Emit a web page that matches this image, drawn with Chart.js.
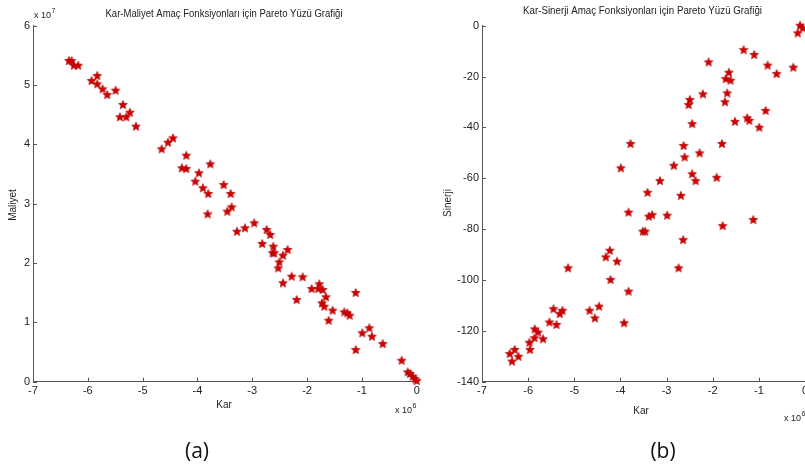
<!DOCTYPE html>
<html>
<head>
<meta charset="utf-8">
<script src="https://cdn.jsdelivr.net/npm/chart.js@4"></script>
<style>
html, body { margin: 0; padding: 0; overflow: hidden; background: #fff; }
body { width: 805px; height: 474px; position: relative; }
canvas { position: absolute; top: 0; }
#chartA { left: 0; }
#chartB { left: 400px; }
.cap { position: absolute; top: 436px; font: 21px "Open Sans", sans-serif; color: #111; transform: translateX(-50%); }
</style>
</head>
<body>
<canvas id="chartA" width="430" height="474"></canvas>
<canvas id="chartB" width="430" height="474"></canvas>
<div class="cap" style="left:197px">(a)</div>
<div class="cap" style="left:663px">(b)</div>
<script>
// (a) Kar (x 10^6) vs Maliyet (x 10^7)
const karA = [
  -6.345, -6.296, -6.254, -6.175, -5.931, -5.828, -5.828, -5.730, -5.646, -5.493,
  -5.359, -5.414, -5.299, -5.232, -5.122, -4.653, -4.538, -4.447, -4.204, -4.283,
  -4.204, -3.973, -3.766, -4.040, -3.900, -3.803, -3.522, -3.394, -3.814, -3.456,
  -3.376, -3.279, -3.133, -2.964, -2.737, -2.672, -2.818, -2.617, -2.628, -2.599,
  -2.440, -2.354, -2.507, -2.526, -2.281, -2.080, -2.440, -2.190, -1.777, -1.916,
  -1.796, -1.715, -1.655, -1.728, -1.686, -1.533, -1.606, -1.321, -1.266, -1.223,
  -1.113, -0.865, -0.993, -0.816, -0.620, -1.113, -0.274, -0.164, -0.122, -0.073,
  -0.026, 0.0
];
const maliyetA = [
  5.405, 5.405, 5.326, 5.326, 5.068, 5.153, 5.013, 4.928, 4.832, 4.905,
  4.664, 4.456, 4.456, 4.534, 4.298, 3.917, 4.028, 4.102, 3.809, 3.597,
  3.585, 3.513, 3.664, 3.371, 3.260, 3.164, 3.315, 3.164, 2.821, 2.865,
  2.939, 2.528, 2.586, 2.670, 2.557, 2.473, 2.321, 2.275, 2.164, 2.164,
  2.124, 2.220, 2.012, 1.911, 1.770, 1.760, 1.659, 1.377, 1.642, 1.562,
  1.562, 1.546, 1.423, 1.321, 1.264, 1.197, 1.028, 1.170, 1.153, 1.112,
  1.495, 0.900, 0.816, 0.758, 0.635, 0.534, 0.354, 0.158, 0.130, 0.084,
  0.040, 0.010
];

// (b) Kar (x 10^6) vs Sinerji
const karB = [
  -0.108, -0.050, -0.158, -1.330, -1.100, -0.809, -0.614, -0.254, -2.089, -1.649,
  -1.720, -1.612, -1.685, -1.735, -2.213, -2.495, -2.523, -2.445, -1.518, -1.252,
  -1.208, -0.852, -0.991, -3.781, -2.631, -1.800, -3.991, -2.610, -2.284, -2.842,
  -3.145, -2.445, -2.371, -1.915, -3.412, -2.690, -3.824, -3.384, -3.312, -2.987,
  -3.514, -3.464, -1.785, -1.121, -2.640, -4.230, -4.317, -4.072, -5.134, -2.740,
  -4.215, -3.824, -5.451, -5.256, -5.315, -5.538, -5.386, -4.670, -4.462, -4.555,
  -3.920, -5.857, -5.785, -5.863, -5.972, -5.677, -5.959, -6.399, -6.291, -6.210,
  -6.349
];
const sinerjiB = [
  0, -1.0, -3.0, -9.6, -11.5, -15.7, -19.0, -16.5, -14.4, -18.5,
  -21.0, -21.6, -26.6, -30.1, -27.0, -29.2, -31.2, -38.7, -37.8, -36.4,
  -37.4, -33.5, -40.1, -46.5, -47.3, -46.5, -56.1, -51.8, -50.2, -55.1,
  -61.1, -58.4, -61.1, -59.8, -65.7, -66.9, -73.5, -75.1, -74.5, -74.7,
  -81.0, -81.0, -78.8, -76.4, -84.3, -88.5, -91.1, -92.8, -95.4, -95.4,
  -100.0, -104.6, -111.5, -112.1, -113.4, -116.7, -117.7, -112.1, -110.5, -115.1,
  -117.0, -119.4, -120.7, -122.9, -124.7, -123.3, -127.5, -129.1, -127.5, -130.2,
  -132.1
];

const karTicks = [-7, -6, -5, -4, -3, -2, -1, 0];
const maliyetTicks = [0, 1, 2, 3, 4, 5, 6];
const sinerjiTicks = [-140, -120, -100, -80, -60, -40, -20, 0];

const AXIS = '#555';
const INK = '#222';

// filled 5-point star, like MATLAB's pentagram marker
function makeStar(r) {
    const s = Math.ceil(r * 2) + 2;
    const c = document.createElement('canvas');
    c.width = s; c.height = s;
    const g = c.getContext('2d');
    g.beginPath();
    for (let i = 0; i < 10; i++) {
        const rad = i % 2 ? r * 0.45 : r;
        const a = -Math.PI / 2 + i * Math.PI / 5;
        const x = s / 2 + rad * Math.cos(a), y = s / 2 + rad * Math.sin(a);
        if (i) g.lineTo(x, y); else g.moveTo(x, y);
    }
    g.closePath();
    g.fillStyle = '#d20000';
    g.fill();
    g.strokeStyle = '#b00000';
    g.lineWidth = 0.6;
    g.stroke();
    return c;
}
const star = makeStar(4.6);

function squashText(ctx, text, x, y, w) {
    const sx = w / ctx.measureText(text).width;
    ctx.save();
    ctx.translate(x, y);
    ctx.scale(sx, 1);
    ctx.fillText(text, 0, 0);
    ctx.restore();
}

// titles, axis labels, exponents and inward tick marks
const annotPlugin = {
    id: 'annot',
    afterDraw(chart, args, o) {
        const ctx = chart.ctx;
        ctx.save();
        ctx.fillStyle = INK;
        ctx.textAlign = 'center';
        ctx.textBaseline = 'middle';
        ctx.font = '10px "Liberation Sans"';
        squashText(ctx, o.title, o.titleX, o.titleY, o.titleW);

        ctx.fillText(o.xTitle, o.xTitleX, o.xTitleY);
        ctx.save();
        ctx.translate(o.yTitleX, o.yTitleY);
        ctx.rotate(-Math.PI / 2);
        ctx.fillText(o.yTitle, 0, 0);
        ctx.restore();

        ctx.textAlign = 'left';
        o.exps.forEach(e => {
            ctx.font = '9px "Liberation Sans"';
            ctx.fillText('x 10', e.x, e.y);
            const w = ctx.measureText('x 10').width;
            ctx.font = '7px "Liberation Sans"';
            ctx.fillText(e.exp, e.x + w + 0.5, e.y - 5);
        });

        // MATLAB style ticks pointing into the plot
        const xs = chart.scales.x, ys = chart.scales.y;
        ctx.strokeStyle = AXIS;
        ctx.lineWidth = 1;
        ctx.beginPath();
        xs.ticks.forEach(t => {
            const px = Math.round(xs.getPixelForValue(t.value)) + 0.5;
            ctx.moveTo(px, ys.bottom);
            ctx.lineTo(px, ys.bottom - 4);
        });
        ys.ticks.forEach(t => {
            const py = Math.round(ys.getPixelForValue(t.value)) + 0.5;
            ctx.moveTo(xs.left, py);
            ctx.lineTo(xs.left + 4, py);
        });
        ctx.stroke();
        ctx.restore();
    }
};

function axis(min, max, tickList, fit) {
    return {
        type: 'linear',
        min: min,
        max: max,
        afterBuildTicks: (s) => { s.ticks = tickList.map(v => ({ value: v })); },
        afterFit: fit,
        grid: { display: true, drawOnChartArea: false, drawTicks: false },
        border: { display: true, color: AXIS, width: 1 },
        ticks: {
            font: { family: 'Liberation Sans', size: 11 },
            color: INK,
            padding: 3,
            maxRotation: 0,
            autoSkip: false,
            callback: (v) => String(v)
        }
    };
}

function makeChart(id, xs, ys, yMin, yMax, yTicks, yWidth, pad, annot) {
    return new Chart(document.getElementById(id).getContext('2d'), {
        type: 'scatter',
        data: {
            datasets: [{
                data: xs.map((x, i) => ({ x: x, y: ys[i] })),
                pointStyle: star,
                pointRadius: 5,
                clip: false
            }]
        },
        options: {
            responsive: false,
            animation: false,
            layout: { padding: pad },
            plugins: {
                legend: { display: false },
                tooltip: { enabled: false },
                annot: annot
            },
            scales: {
                x: axis(-7, 0, karTicks, (s) => { s.height = 30; }),
                y: axis(yMin, yMax, yTicks, (s) => { s.width = yWidth; })
            }
        },
        plugins: [annotPlugin]
    });
}

makeChart('chartA', karA, maliyetA, 0, 6, maliyetTicks, 33,
    { left: 0, top: 25.7, right: 13.3, bottom: 62.3 },
    {
        title: 'Kar-Maliyet Amaç Fonksiyonları için Pareto Yüzü Grafiği',
        titleX: 224, titleY: 14, titleW: 237,
        xTitle: 'Kar', xTitleX: 224, xTitleY: 405,
        yTitle: 'Maliyet', yTitleX: 13, yTitleY: 205,
        exps: [{ x: 34, y: 16, exp: '7' }, { x: 395, y: 411, exp: '6' }]
    });

makeChart('chartB', karB, sinerjiB, -140, 0, sinerjiTicks, 82,
    { left: 0, top: 25.7, right: 25, bottom: 62.3 },
    {
        title: 'Kar-Sinerji Amaç Fonksiyonları için Pareto Yüzü Grafiği',
        titleX: 242.5, titleY: 11, titleW: 239,
        xTitle: 'Kar', xTitleX: 241, xTitleY: 411,
        yTitle: 'Sinerji', yTitleX: 48, yTitleY: 203,
        exps: [{ x: 384, y: 419, exp: '6' }]
    });
</script>
</body>
</html>
